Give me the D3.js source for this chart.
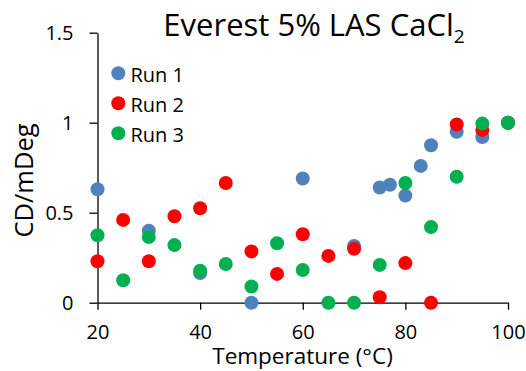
<!DOCTYPE html>
<html><head><meta charset="utf-8">
<script src="https://cdn.jsdelivr.net/npm/d3@7/dist/d3.min.js"></script>
<style>body{margin:0;background:#fff}svg{display:block}</style>
</head><body>
<svg id="c" width="526" height="371"></svg>
<script>
const temps1 = [20,30,40,50,60,70,75,77,80,83,85,90,95,100];
const run1 = [0.63,0.40,0.165,0,0.69,0.315,0.64,0.655,0.595,0.76,0.875,0.95,0.92,1.0];
const temps2 = [20,25,30,35,40,45,50,55,60,65,70,75,80,85,90,95,100];
const run2 = [0.23,0.46,0.23,0.48,0.525,0.665,0.285,0.16,0.38,0.26,0.30,0.03,0.22,0,0.99,0.96,1.0];
const temps3 = [20,25,30,35,40,45,50,55,60,65,70,75,80,85,90,95,100];
const run3 = [0.375,0.125,0.365,0.32,0.178,0.215,0.09,0.33,0.182,0,0,0.21,0.665,0.42,0.70,0.995,1.0];
const xTicks = [20,40,60,80,100];
const yTicks = [0,0.5,1,1.5];
const yTickLabels = ["0","0.5","1","1.5"];
const seriesNames = ["Run 1","Run 2","Run 3"];
const colors = ["#4F81BD","#FF0000","#00B050"];

const font = "'Open Sans', sans-serif";
const svg = d3.select("#c");
const x = d3.scaleLinear().domain([20,100]).range([97.5,508]);
const y = d3.scaleLinear().domain([0,1.5]).range([302.7,32.7]);

const xAxis = svg.append("g").attr("transform","translate(0,302.7)")
  .call(d3.axisBottom(x).tickValues(xTicks).tickSizeInner(7).tickSizeOuter(0).tickPadding(15.5));
const yAxis = svg.append("g").attr("transform","translate(97.5,0)")
  .call(d3.axisLeft(y).tickValues(yTicks).tickFormat((d,i)=>yTickLabels[i]).tickSizeInner(8).tickSizeOuter(0).tickPadding(16));
[xAxis,yAxis].forEach(a=>{
  a.selectAll("path,line").attr("stroke","#000").attr("stroke-width",1.3);
  a.selectAll("text").attr("font-family",font).attr("font-size",20).attr("fill","#000");
});
yAxis.selectAll("text").attr("dy","0.36em");

const series = [[temps1,run1],[temps2,run2],[temps3,run3]];
series.forEach((s,i)=>{
  svg.append("g").selectAll("circle").data(s[0].map((t,j)=>[t,s[1][j]])).join("circle")
    .attr("cx",d=>x(d[0])).attr("cy",d=>y(d[1])).attr("r",7).attr("fill",colors[i]);
});

const leg = svg.append("g");
seriesNames.forEach((n,i)=>{
  const yy = 73.3 + i*30;
  leg.append("circle").attr("cx",118.3).attr("cy",yy).attr("r",7).attr("fill",colors[i]);
  leg.append("text").attr("x",130.5).attr("y",yy+8.2)
    .attr("font-family",font).attr("font-size",20).text(n);
});

const title = svg.append("text").attr("x",314).attr("y",35.7).attr("text-anchor","middle")
  .attr("font-family",font).attr("font-size",31);
title.append("tspan").text("Everest 5% LAS CaCl");
title.append("tspan").attr("font-size",19).attr("dy",7).text("2");

svg.append("text").attr("x",302.5).attr("y",363.5).attr("text-anchor","middle")
  .attr("font-family",font).attr("font-size",22.5).text("Temperature (°C)");
svg.append("text").attr("transform","translate(33.3,180.5) rotate(-90)").attr("text-anchor","middle")
  .attr("font-family",font).attr("font-size",25.5).text("CD/mDeg");
</script>
</body></html>
